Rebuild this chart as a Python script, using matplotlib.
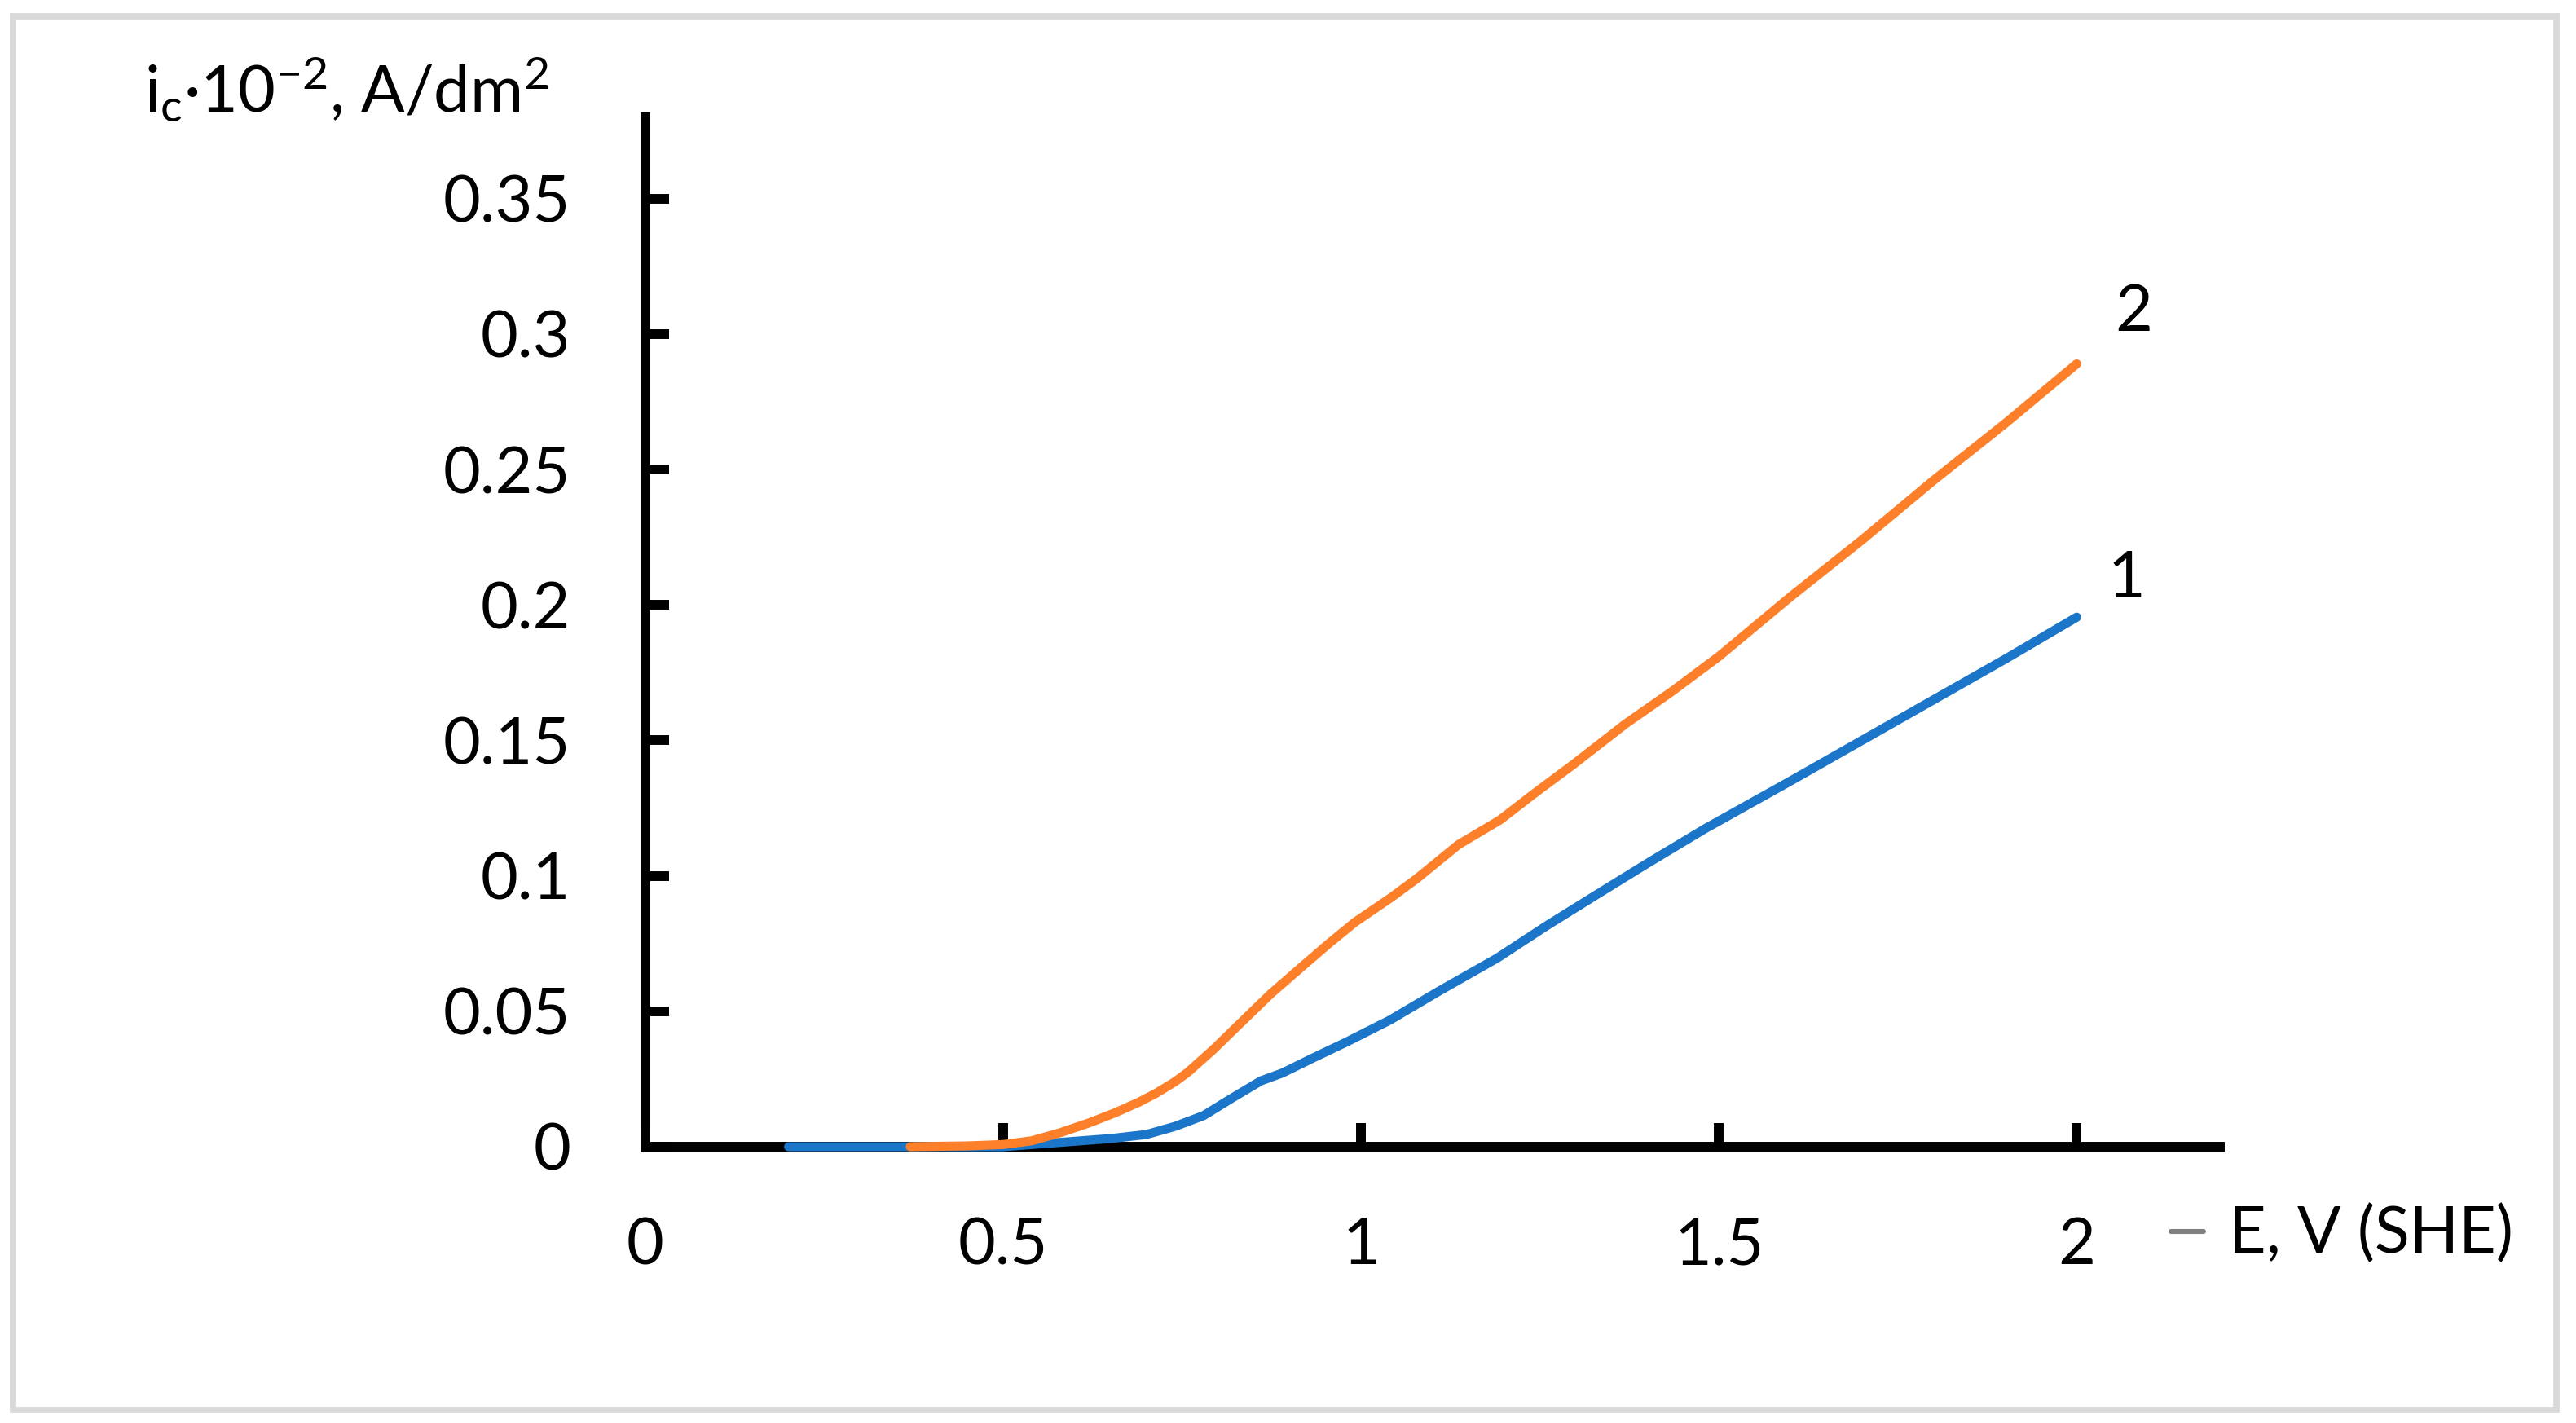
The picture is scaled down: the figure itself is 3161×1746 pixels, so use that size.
import numpy as np
import matplotlib
matplotlib.use("Agg")
import matplotlib.pyplot as plt
from matplotlib.ticker import FuncFormatter
from matplotlib.lines import Line2D
from matplotlib.patches import Rectangle

"""
Data read off the chart: E (V, SHE) vs i_c*10^-2 (A/dm2)
"""
# curve 1 (blue)
e_1 = [0.20, 0.30, 0.40, 0.50, 0.55, 0.60, 0.65, 0.70, 0.74, 0.78, 0.82, 0.86,
       0.89, 0.93, 0.98, 1.04, 1.11, 1.19, 1.26, 1.33, 1.40, 1.48, 1.60, 1.70,
       1.80, 1.90, 2.00]
i_1 = [0, 0, 0, 0, 0.001, 0.002, 0.003, 0.0045, 0.0075, 0.0115, 0.018, 0.0243,
       0.0272, 0.0324, 0.0387, 0.0467, 0.0576, 0.0696, 0.0817, 0.0932, 0.1046,
       0.1173, 0.135, 0.150, 0.165, 0.180, 0.1955]

# curve 2 (orange)
e_2 = [0.37, 0.45, 0.50, 0.54, 0.58, 0.62, 0.656, 0.69, 0.714, 0.74, 0.758,
       0.794, 0.831, 0.874, 0.918, 0.954, 0.991, 1.042, 1.078, 1.136, 1.194,
       1.245, 1.296, 1.369, 1.434, 1.50, 1.60, 1.70, 1.80, 1.90, 2.00]
i_2 = [0, 0.0003, 0.0008, 0.0022, 0.0052, 0.0088, 0.0125, 0.0165, 0.0198,
       0.024, 0.0275, 0.036, 0.0455, 0.0565, 0.0666, 0.0748, 0.0828, 0.092,
       0.099, 0.1115, 0.1206, 0.131, 0.141, 0.156, 0.168, 0.181, 0.203, 0.224,
       0.246, 0.267, 0.289]

curve_names = ["1", "2"]
x_ticks = [0, 0.5, 1, 1.5, 2]
y_ticks = [0, 0.05, 0.1, 0.15, 0.2, 0.25, 0.3, 0.35]

y_label = r"i$_{c}$·10$^{-2}$, A/dm$^{2}$"
x_label = "E, V (SHE)"

plt.rcParams['font.family'] = ['Lato', 'DejaVu Sans']
plt.rcParams['mathtext.default'] = 'regular'

W, H, dpi = 3161, 1746, 200
fs = 28.5
lw_axis = 4.3

fig = plt.figure(figsize=(W / dpi, H / dpi), dpi=dpi)
ax = fig.add_axes([792 / W, 339 / H, 1932 / W, 1263 / H])

blue = '#1b75c8'
orange = '#fe7f2a'

ax.plot(e_1, i_1, color=blue, lw=4.0, solid_capstyle='round',
        solid_joinstyle='round', zorder=3, clip_on=False)
ax.plot(e_2, i_2, color=orange, lw=4.0, solid_capstyle='round',
        solid_joinstyle='round', zorder=3, clip_on=False)

ax.set_xlim(0, 2.2)
ax.set_ylim(0, 0.38)
ax.set_xticks(x_ticks)
ax.set_yticks(y_ticks)
fmt = FuncFormatter(lambda v, p: f"{v:g}")
ax.xaxis.set_major_formatter(fmt)
ax.yaxis.set_major_formatter(fmt)

for s in ['top', 'right']:
    ax.spines[s].set_visible(False)
for s in ['left', 'bottom']:
    ax.spines[s].set_linewidth(lw_axis)
    ax.spines[s].set_color('black')

ax.tick_params(axis='both', direction='in', length=10.5, width=lw_axis,
               labelsize=fs, colors='black')
ax.tick_params(axis='x', pad=31)
ax.tick_params(axis='y', pad=33)

# curve numbers at line ends
ax.text(2.070, 0.2027, curve_names[0], fontsize=fs, ha='center', va='baseline')
ax.text(2.080, 0.3012, curve_names[1], fontsize=fs, ha='center', va='baseline')

# axis titles
fig.text(177 / W, 1 - 137 / H, y_label, fontsize=fs, ha='left', va='baseline')
fig.text(2735 / W, 1 - 1537 / H, x_label, fontsize=fs, ha='left', va='baseline')
fig.add_artist(Line2D([2664 / W, 2704 / W], [1 - 1511 / H, 1 - 1511 / H],
                      transform=fig.transFigure, color='#808080', lw=2.2,
                      solid_capstyle='round'))

# light grey frame around the chart area
fig.add_artist(Rectangle((16 / W, 1 - 1730 / H), (3137 - 16) / W, (1730 - 20) / H,
                         transform=fig.transFigure, fill=False,
                         edgecolor='#d9d9d9', lw=2.8))

fig.savefig('out.png', dpi=dpi)
